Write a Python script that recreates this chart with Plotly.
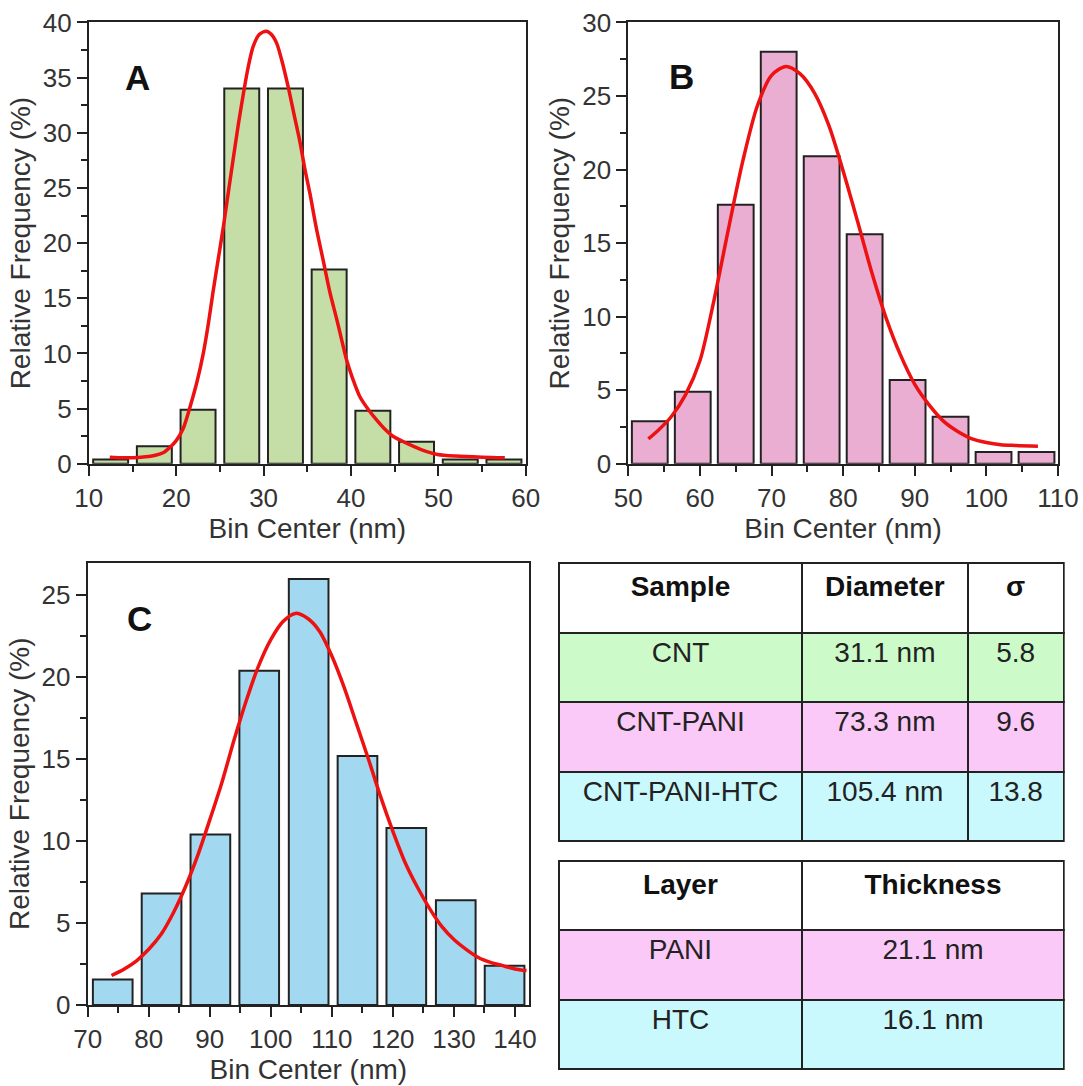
import plotly.graph_objects as go

# ---------------- data ----------------
# Panel A (CNT)
a_centers = [12.5, 17.5, 22.5, 27.5, 32.5, 37.5, 42.5, 47.5, 52.5, 57.5]
a_freq = [0.4, 1.6, 4.9, 34.0, 34.0, 17.6, 4.8, 2.0, 0.4, 0.4]
a_fit_x = [12.4, 14.0, 16.0, 17.5, 18.5, 19.3, 20.0, 20.8, 21.6, 22.4, 23.1, 23.7, 24.2, 24.8,
           25.4, 26.0, 26.5, 27.1, 27.7, 28.2, 28.8, 29.5, 30.3, 30.9, 31.5, 32.1, 32.8, 33.5,
           34.2, 34.7, 35.3, 36.0, 36.8, 37.6, 38.4, 39.0, 39.5, 40.2, 41.0, 42.0, 42.9, 43.8,
           44.8, 46.0, 47.1, 48.5, 49.9, 52.0, 55.0, 57.6]
a_fit_y = [0.6, 0.55, 0.6, 0.75, 1.0, 1.5, 2.1, 3.2, 5.2, 7.5, 10.0, 12.8, 15.5, 18.5,
           21.5, 24.8, 27.5, 30.7, 33.6, 35.8, 37.8, 38.9, 39.2, 38.9, 38.1, 36.5, 34.2, 31.6,
           29.0, 26.8, 24.5, 21.5, 18.5, 15.5, 13.0, 11.0, 9.4, 7.7, 6.1, 4.9, 4.0, 3.2,
           2.5, 2.0, 1.6, 1.15, 0.85, 0.7, 0.6, 0.55]

# Panel B (CNT-PANI)
b_centers = [53, 59, 65, 71, 77, 83, 89, 95, 101, 107]
b_freq = [2.9, 4.9, 17.6, 28.0, 20.9, 15.6, 5.7, 3.2, 0.8, 0.8]
b_fit_x = [52.8, 54, 56, 58, 60, 62, 64, 66, 68, 70, 72, 74, 76, 78, 80, 82, 84, 86, 88,
           90, 92, 94, 96, 98, 100, 102, 104, 107.2]
b_fit_y = [1.7, 2.2, 3.2, 4.7, 7.0, 11.2, 16.0, 20.6, 24.3, 26.4, 27.0, 26.5, 25.2, 23.0,
           19.9, 16.5, 13.0, 9.9, 7.4, 5.4, 4.0, 2.9, 2.2, 1.7, 1.45, 1.3, 1.25, 1.2]

# Panel C (CNT-PANI-HTC)
c_centers = [74.1, 82.1, 90.1, 98.1, 106.2, 114.2, 122.2, 130.3, 138.3]
c_freq = [1.55, 6.8, 10.4, 20.4, 26.0, 15.2, 10.8, 6.4, 2.4]
c_fit_x = [73.9, 76, 78, 80, 82, 84, 86, 88, 90, 92, 94, 96, 98, 100, 102, 104, 106, 108,
           110, 112, 114, 116, 118, 120, 122, 124, 126, 128, 130, 132, 134, 136, 138, 140, 141.9]
c_fit_y = [1.8, 2.2, 2.7, 3.4, 4.3, 5.6, 7.2, 9.1, 11.3, 13.6, 16.2, 18.6, 20.7, 22.3, 23.4,
           23.9, 23.6, 22.8, 21.3, 19.4, 17.2, 15.0, 12.7, 10.6, 8.7, 7.2, 5.9, 4.8, 4.0,
           3.4, 2.9, 2.6, 2.4, 2.2, 2.1]

# Tables
t1_header = ["Sample", "Diameter", "σ"]
t1_sample = ["CNT", "CNT-PANI", "CNT-PANI-HTC"]
t1_diameter = ["31.1 nm", "73.3 nm", "105.4 nm"]
t1_sigma = ["5.8", "9.6", "13.8"]
t2_header = ["Layer", "Thickness"]
t2_layer = ["PANI", "HTC"]
t2_thickness = ["21.1 nm", "16.1 nm"]

panel_labels = ["A", "B", "C"]

# ---------------- style ----------------
W, H = 1083, 1086


def fx(px):
    return px / W


def fy(py):
    return 1 - py / H


FONT = "Liberation Sans, Arial, sans-serif"
GREEN_BAR = "#c5dea8"
PINK_BAR = "#e9aed1"
BLUE_BAR = "#a3d8f1"
GREEN_T = "#ccfbc9"
PINK_T = "#fbc9f8"
CYAN_T = "#c9f9fc"
EDGE = "#222222"
RED = "#ee1111"

fig = go.Figure()

panels = [
    (a_centers, a_freq, a_fit_x, a_fit_y, GREEN_BAR, 4.0, "x", "y"),
    (b_centers, b_freq, b_fit_x, b_fit_y, PINK_BAR, 5.0, "x2", "y2"),
    (c_centers, c_freq, c_fit_x, c_fit_y, BLUE_BAR, 6.5, "x3", "y3"),
]
for cx, fq, fitx, fity, col, w, xa, ya in panels:
    fig.add_trace(go.Bar(x=cx, y=fq, width=w, marker=dict(color=col, line=dict(color=EDGE, width=2)),
                         xaxis=xa, yaxis=ya, showlegend=False))
    fig.add_trace(go.Scatter(x=fitx, y=fity, mode="lines",
                             line=dict(color=RED, width=3.5, shape="spline", smoothing=0.8),
                             xaxis=xa, yaxis=ya, showlegend=False))

# tables
ROWH = 69.5
fig.add_trace(go.Table(
    domain=dict(x=[fx(558.7), fx(1064)], y=[fy(846), fy(563)]),
    columnwidth=[243.7, 165.4, 96.2],
    header=dict(values=["<b>%s</b>" % h for h in t1_header], fill_color="white", height=ROWH,
                line=dict(color=EDGE, width=2), align="center",
                font=dict(family=FONT, size=28, color="#111111")),
    cells=dict(values=[t1_sample, t1_diameter, t1_sigma], height=ROWH,
               fill_color=[[GREEN_T, PINK_T, CYAN_T]] * 3,
               line=dict(color=EDGE, width=2), align="center",
               font=dict(family=FONT, size=28, color="#222222")),
))
fig.add_trace(go.Table(
    domain=dict(x=[fx(558.7), fx(1064)], y=[fy(1075), fy(860.6)]),
    columnwidth=[243.7, 261.6],
    header=dict(values=["<b>%s</b>" % h for h in t2_header], fill_color="white", height=ROWH,
                line=dict(color=EDGE, width=2), align="center",
                font=dict(family=FONT, size=28, color="#111111")),
    cells=dict(values=[t2_layer, t2_thickness], height=ROWH,
               fill_color=[[PINK_T, CYAN_T]] * 2,
               line=dict(color=EDGE, width=2), align="center",
               font=dict(family=FONT, size=28, color="#222222")),
))


def xaxis(domain, rng, anchor):
    return dict(domain=domain, range=rng, anchor=anchor, dtick=10, tick0=0, automargin=False,
                showline=True, mirror=True, linecolor=EDGE, linewidth=2,
                ticks="outside", ticklen=10, tickwidth=2, tickcolor=EDGE,
                minor=dict(ticks="outside", ticklen=6, tickwidth=2, dtick=5, tick0=0, tickcolor=EDGE),
                showgrid=False, zeroline=False, ticklabeloverflow="allow",
                tickfont=dict(family=FONT, size=26, color="#333333"),
                title=dict(text="Bin Center (nm)", standoff=2,
                           font=dict(family=FONT, size=28, color="#333333")))


def yaxis(domain, rng, anchor):
    return dict(domain=domain, range=rng, anchor=anchor, dtick=5, tick0=0, automargin=False,
                showline=True, mirror=True, linecolor=EDGE, linewidth=2,
                ticks="outside", ticklen=10, tickwidth=2, tickcolor=EDGE,
                minor=dict(ticks="outside", ticklen=6, tickwidth=2, dtick=2.5, tick0=0, tickcolor=EDGE),
                showgrid=False, zeroline=False, ticklabeloverflow="allow",
                tickfont=dict(family=FONT, size=26, color="#333333"),
                title=dict(text="Relative Frequency (%)", standoff=4,
                           font=dict(family=FONT, size=28, color="#333333")))


fig.update_layout(
    width=W, height=H,
    margin=dict(l=0, r=0, t=0, b=0),
    paper_bgcolor="white", plot_bgcolor="white",
    xaxis=xaxis([fx(88.8), fx(525.8)], [10, 60], "y"),
    yaxis=yaxis([fy(463.8), fy(22.4)], [0, 40], "x"),
    xaxis2=xaxis([fx(628.3), fx(1058)], [50, 110], "y2"),
    yaxis2=yaxis([fy(463.8), fy(22.4)], [0, 30], "x2"),
    xaxis3=xaxis([fx(87.7), fx(529)], [70, 142.3], "y3"),
    yaxis3=yaxis([fy(1005), fy(562.6)], [0, 27], "x3"),
)

label_pos = [(137.7, 77.5), (681, 77), (139, 618)]
for lab, (px, py) in zip(panel_labels, label_pos):
    fig.add_annotation(x=fx(px), y=fy(py), xref="paper", yref="paper",
                       text="<b>%s</b>" % lab, showarrow=False,
                       font=dict(family=FONT, size=35, color="#111111"),
                       xanchor="center", yanchor="middle")

fig.write_html(
    "out.html",
    config={"displayModeBar": False},
    post_script="document.body.style.margin='0';document.body.style.padding='0';"
                "document.documentElement.style.overflow='hidden';",
)
